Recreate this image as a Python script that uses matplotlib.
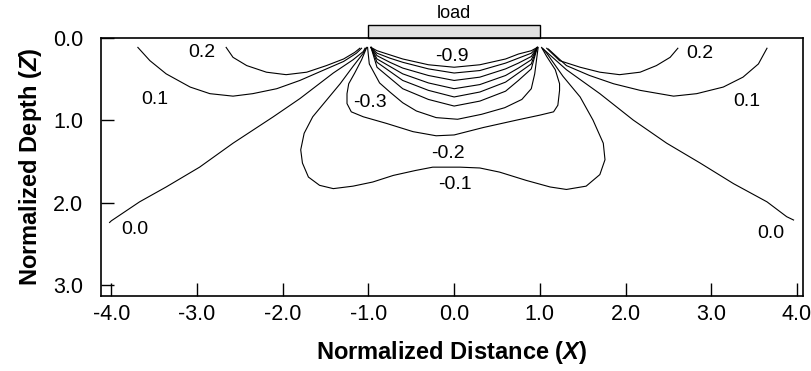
import matplotlib
matplotlib.use("Agg")
import matplotlib.pyplot as plt
from matplotlib.patches import Rectangle

plt.rcParams['font.family'] = ['Liberation Sans', 'DejaVu Sans']
plt.rcParams['mathtext.fontset'] = 'custom'
plt.rcParams['mathtext.it'] = 'Liberation Sans:italic:bold'
plt.rcParams['mathtext.rm'] = 'Liberation Sans:bold'

# contour lines, (X, Z) pairs
c_p02_left = [(-2.66, 0.12), (-2.58, 0.24), (-2.42, 0.34), (-2.19, 0.42), (-1.96, 0.45),
              (-1.72, 0.42), (-1.49, 0.34), (-1.29, 0.26), (-1.16, 0.18), (-1.10, 0.13)]
c_p02_right = [(1.08, 0.13), (1.23, 0.28), (1.47, 0.36), (1.70, 0.42), (1.93, 0.45),
               (2.17, 0.42), (2.36, 0.34), (2.52, 0.24), (2.61, 0.13)]
c_p01_left = [(-3.69, 0.12), (-3.55, 0.28), (-3.36, 0.44), (-3.08, 0.60), (-2.85, 0.68),
              (-2.58, 0.71), (-2.35, 0.68), (-2.07, 0.62), (-1.80, 0.52), (-1.49, 0.38),
              (-1.29, 0.29), (-1.14, 0.19), (-1.08, 0.13)]
c_p01_right = [(1.10, 0.14), (1.31, 0.34), (1.58, 0.46), (1.86, 0.56), (2.17, 0.64),
               (2.56, 0.71), (2.83, 0.68), (3.14, 0.60), (3.37, 0.48), (3.55, 0.32), (3.65, 0.13)]
c_00_left = [(-4.02, 2.24), (-4.00, 2.22), (-3.67, 1.99), (-3.36, 1.81), (-2.97, 1.57),
             (-2.58, 1.28), (-2.11, 0.96), (-1.80, 0.74), (-1.41, 0.43), (-1.18, 0.27),
             (-1.06, 0.17), (-1.04, 0.13)]
c_00_right = [(1.04, 0.14), (1.31, 0.39), (1.70, 0.68), (2.09, 1.00), (2.48, 1.28),
              (2.87, 1.52), (3.26, 1.77), (3.65, 1.99), (3.88, 2.17), (3.96, 2.21)]
c_m01 = [(-1.03, 0.13), (-1.06, 0.19), (-1.18, 0.35), (-1.33, 0.56), (-1.49, 0.76),
         (-1.65, 0.96), (-1.75, 1.16), (-1.79, 1.36), (-1.77, 1.52), (-1.70, 1.69),
         (-1.57, 1.79), (-1.41, 1.83), (-1.18, 1.80), (-0.95, 1.75), (-0.71, 1.67),
         (-0.45, 1.61), (-0.25, 1.57), (0.07, 1.57), (0.30, 1.58), (0.53, 1.63),
         (0.84, 1.73), (1.12, 1.81), (1.31, 1.84), (1.54, 1.80), (1.70, 1.66),
         (1.76, 1.48), (1.74, 1.28), (1.62, 1.00), (1.47, 0.72), (1.27, 0.47),
         (1.08, 0.19), (1.03, 0.13)]
c_m02 = [(-1.02, 0.12), (-1.08, 0.27), (-1.16, 0.43), (-1.23, 0.56), (-1.25, 0.68),
         (-1.25, 0.80), (-1.20, 0.90), (-1.06, 0.96), (-0.79, 1.04), (-0.48, 1.14),
         (-0.21, 1.19), (0.00, 1.18), (0.34, 1.09), (0.73, 1.00), (1.00, 0.94),
         (1.16, 0.90), (1.21, 0.82), (1.23, 0.64), (1.23, 0.56), (1.18, 0.39),
         (1.08, 0.23), (1.02, 0.12)]
c_m03 = [(-1.01, 0.12), (-0.99, 0.32), (-0.87, 0.55), (-0.75, 0.66), (-0.60, 0.79),
         (-0.44, 0.89), (-0.21, 0.97), (0.04, 0.99), (0.32, 0.93), (0.59, 0.85),
         (0.79, 0.75), (0.90, 0.62), (0.94, 0.44), (0.96, 0.28), (0.98, 0.12)]

# inner bowl contours -0.4 ... -0.9 sampled at these X positions
bowl_x = [-0.97, -0.9, -0.75, -0.6, -0.3, 0.0, 0.3, 0.6, 0.75, 0.9, 0.97]
c_m04 = [0.12, 0.36, 0.49, 0.62, 0.75, 0.83, 0.77, 0.65, 0.52, 0.38, 0.12]
c_m05 = [0.12, 0.30, 0.41, 0.52, 0.64, 0.72, 0.66, 0.54, 0.43, 0.32, 0.12]
c_m06 = [0.12, 0.26, 0.35, 0.44, 0.55, 0.62, 0.57, 0.46, 0.37, 0.27, 0.12]
c_m07 = [0.12, 0.22, 0.30, 0.37, 0.46, 0.52, 0.48, 0.38, 0.31, 0.23, 0.12]
c_m08 = [0.12, 0.19, 0.25, 0.30, 0.38, 0.43, 0.40, 0.31, 0.25, 0.19, 0.12]
c_m09 = [0.12, 0.16, 0.21, 0.26, 0.33, 0.36, 0.33, 0.26, 0.20, 0.16, 0.12]

# contour labels
label_text = ['0.2', '0.1', '0.0', '0.2', '0.1', '0.0', '-0.9', '-0.3', '-0.2', '-0.1']
label_x = [-2.94, -3.49, -3.73, 2.87, 3.41, 3.70, -0.03, -0.98, -0.07, 0.01]
label_z = [0.18, 0.75, 2.33, 0.19, 0.77, 2.37, 0.23, 0.79, 1.40, 1.78]

x_ticks = [-4, -3, -2, -1, 0, 1, 2, 3, 4]
z_ticks = [0, 1, 2, 3]

fig = plt.figure(figsize=(8.12, 3.71), dpi=100)
ax = fig.add_axes([0.1244, 0.2022, 0.8645, 0.6967])

for line in [c_p02_left, c_p02_right, c_p01_left, c_p01_right, c_00_left, c_00_right,
             c_m01, c_m02, c_m03]:
    ax.plot([p[0] for p in line], [p[1] for p in line], color='black', lw=0.8)
for zs in [c_m04, c_m05, c_m06, c_m07, c_m08, c_m09]:
    ax.plot(bowl_x, zs, color='black', lw=0.8)

for t, x, z in zip(label_text, label_x, label_z):
    ax.text(x, z, t, ha='center', va='center', fontsize=14)

# the load on the surface
ax.add_patch(Rectangle((-1, -0.15), 2, 0.15, facecolor='#e0e0e0', edgecolor='black',
                       lw=1, clip_on=False))
ax.text(0, -0.19, 'load', ha='center', va='bottom', fontsize=13)

ax.set_xlim(-4.12, 4.07)
ax.set_ylim(3.13, 0)
ax.set_xticks(x_ticks)
ax.set_xticklabels([f'{v:.1f}' for v in x_ticks])
ax.set_yticks(z_ticks)
ax.set_yticklabels([f'{v:.1f}' for v in z_ticks])
ax.tick_params(direction='in', length=9.5, width=1, labelsize=15.5)
ax.tick_params(axis='x', pad=6)
ax.tick_params(axis='y', pad=13)
for s in ax.spines.values():
    s.set_linewidth(1.2)

ax.set_xlabel('Normalized Distance ($X$)', fontsize=17, fontweight='bold', labelpad=10)
ax.set_ylabel('Normalized Depth ($Z$)', fontsize=17, fontweight='bold', labelpad=6)

fig.savefig('out.png', dpi=100)
